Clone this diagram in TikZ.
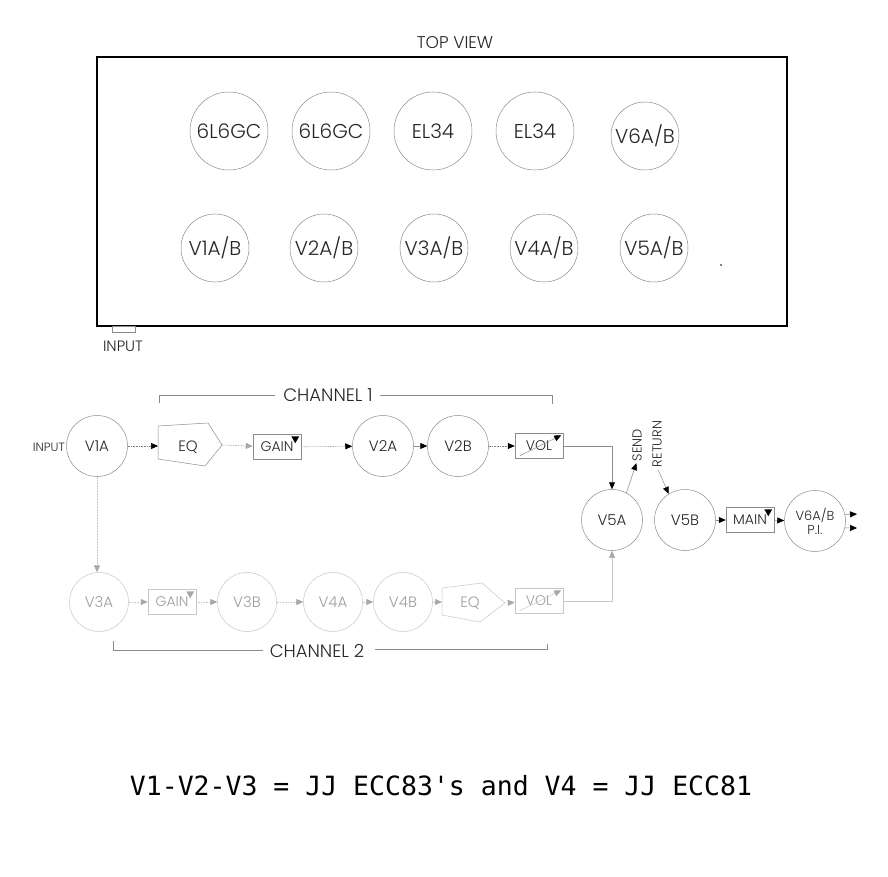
\documentclass[tikz,border=0pt]{standalone}
\usepackage{fontspec}
\setmainfont{Poppins Light}
\newfontfamily\monof{DejaVu Sans Mono}
\usetikzlibrary{arrows.meta,shapes.geometric}
\definecolor{tubeline}{gray}{0.55}
\definecolor{ctwoline}{gray}{0.78}
\definecolor{ctwotext}{gray}{0.62}
\definecolor{ctwohead}{gray}{0.66}
\definecolor{labeltext}{gray}{0.15}
\newcommand{\fsz}[1]{\fontsize{#1}{#1}\selectfont}
\begin{document}
\begin{tikzpicture}[x=1pt,y=-1pt,
  every node/.style={inner sep=0pt, text=labeltext},
  toptube/.style={circle, draw=tubeline, line width=0.5pt, minimum size=78pt, font=\fsz{20}},
  smalltube/.style={circle, draw=tubeline, line width=0.5pt, minimum size=68pt, font=\fsz{20}},
  tubeone/.style={circle, draw=tubeline, line width=0.5pt, minimum size=61pt, font=\fsz{15}},
  tubetwo/.style={circle, draw=ctwoline, line width=0.5pt, minimum size=59pt, font=\fsz{15}, text=ctwotext},
  boxone/.style={rectangle, draw=tubeline, line width=0.5pt, minimum width=48pt, minimum height=25pt, font=\fsz{14}},
  boxtwo/.style={rectangle, draw=ctwoline, line width=0.5pt, minimum width=48pt, minimum height=25pt, font=\fsz{14}, text=ctwotext},
  headblack/.style={-{Triangle[length=7pt,width=6pt,color=black]}},
  headgray/.style={-{Triangle[length=7pt,width=6pt,color=ctwohead]}},
  dotline/.style={densely dotted, draw=gray, line width=0.6pt},
  dottwo/.style={densely dotted, draw=ctwoline, line width=0.6pt},
]
\useasboundingbox (0,0) rectangle (888,877);
\fill[white] (0,0) rectangle (888,877);

% ---------- TOP VIEW ----------
\node[font=\fsz{17}] (topview) at (455,43) {TOP VIEW};
\draw[line width=2pt] (97,57) rectangle (787,326);
\node[toptube] (t1) at (229,131) {6L6GC};
\node[toptube] (t2) at (331,131) {6L6GC};
\node[toptube] (t3) at (433,131) {EL34};
\node[toptube] (t4) at (535,131) {EL34};
\node[smalltube] (t5) at (645,136) {V6A/B};
\node[smalltube] (b1) at (215,248) {V1A/B};
\node[smalltube] (b2) at (324,248) {V2A/B};
\node[smalltube] (b3) at (434,248) {V3A/B};
\node[smalltube] (b4) at (544,248) {V4A/B};
\node[smalltube] (b5) at (654,248) {V5A/B};
\fill (721,265) circle (0.8);
\draw[tubeline, line width=0.5pt] (112,326) rectangle (135,332);
\node[font=\fsz{15}] (inputtop) at (123,346) {INPUT};

% ---------- CHANNEL 1 ----------
\node[font=\fsz{12}, anchor=east] (inp) at (65,447) {INPUT};
\node[tubeone] (v1a) at (97,446) {V1A};
\draw[tubeline, line width=0.5pt] (158,426) -- (208,423) -- (222,445) -- (205,466) -- (158,459) -- cycle;
\coordinate (eq1w) at (158,446);
\coordinate (eq1e) at (222,445);
\node[font=\fsz{15}] (eq1) at (188,447) {EQ};
\node[boxone] (gain1) at (277,447) {GAIN};
\fill ([shift={(-10,2)}]gain1.north east) -- ++(8,0) -- ++(-4,7) -- cycle;
\node[tubeone] (v2a) at (383,446) {V2A};
\node[tubeone] (v2b) at (458,446) {V2B};
\node[boxone] (vol1) at (539,446) {VOL};
\draw[tubeline, line width=0.5pt, headblack] ([shift={(5,-3)}]vol1.south west) -- ([shift={(-2,2)}]vol1.north east);

\draw[dotline, headblack] (v1a) -- (eq1w);
\draw[dotline, headgray] (eq1e) -- (gain1);
\draw[dotline, headblack] (gain1) -- (v2a);
\draw[tubeline, line width=0.5pt, headblack] (v2a) -- (v2b);
\draw[dotline, headblack] (v2b) -- (vol1);

\draw[tubeline, line width=0.5pt] (159,403) -- (159,395) -- (275,395);
\node[font=\fsz{18}] (ch1) at (328,395) {CHANNEL 1};
\draw[tubeline, line width=0.5pt] (380,395) -- (552,395) -- (552,404);

% ---------- V5 / output ----------
\node[tubeone] (v5a) at (612,520) {V5A};
\node[tubeone] (v5b) at (685,520) {V5B};
\node[boxone] (main) at (750,520) {MAIN};
\fill ([shift={(-10,2)}]main.north east) -- ++(8,0) -- ++(-4,7) -- cycle;
\node[tubeone, align=center, font=\fsz{13}] (v6) at (815,521) {V6A/B\\[1pt]P.I.};
\node[rotate=90, font=\fsz{13}] (send) at (637,445) {SEND};
\node[rotate=90, font=\fsz{13}] (ret) at (657,444) {RETURN};
\coordinate (out1) at (857,514);
\coordinate (out2) at (857,528);

\draw[tubeline, line width=0.5pt, headblack] (vol1.east) -| (v5a.north);
\draw[tubeline, line width=0.5pt, headblack, shorten >=2pt] (v5a.62) -- (send.west);
\draw[tubeline, line width=0.5pt, headblack, shorten <=3pt] (ret.west) -- (v5b.122);
\draw[tubeline, line width=0.5pt, headblack] (v5b) -- (main);
\draw[tubeline, line width=0.5pt, headblack] (main) -- (v6);
\draw[tubeline, line width=0.5pt, headblack] (v6.12) -- (out1);
\draw[tubeline, line width=0.5pt, headblack] (v6.-13) -- (out2);

% ---------- CHANNEL 2 ----------
\node[tubetwo] (v3a) at (99,602) {V3A};
\node[boxtwo] (gain2) at (172,602) {GAIN};
\fill[ctwohead] ([shift={(-10,2)}]gain2.north east) -- ++(8,0) -- ++(-4,7) -- cycle;
\node[tubetwo] (v3b) at (247,602) {V3B};
\node[tubetwo] (v4a) at (333,602) {V4A};
\node[tubetwo] (v4b) at (403,602) {V4B};
\draw[ctwoline, line width=0.5pt] (442,588) -- (482,583) -- (505,603) -- (480,622) -- (442,615) -- cycle;
\coordinate (eq2w) at (442,602);
\coordinate (eq2e) at (505,603);
\node[font=\fsz{15}, text=ctwotext] (eq2) at (470,603) {EQ};
\node[boxtwo] (vol2) at (539,601) {VOL};
\draw[ctwoline, line width=0.5pt, headgray] ([shift={(5,-3)}]vol2.south west) -- ([shift={(-2,2)}]vol2.north east);

\draw[dottwo, headgray] (v1a.south) -- (v1a.south |- v3a.north);
\draw[dottwo, headgray] (v3a) -- (gain2);
\draw[dottwo, headgray] (gain2) -- (v3b);
\draw[dottwo, headgray] (v3b) -- (v4a);
\draw[dottwo, headgray] (v4a) -- (v4b);
\draw[dottwo, headgray] (v4b) -- (eq2w);
\draw[dottwo, headgray] (eq2e) -- (vol2);
\draw[ctwoline, line width=0.5pt, headgray] (vol2.east) -| (v5a.south);

\draw[tubeline, line width=0.5pt] (113,641) -- (113,650) -- (263,650);
\node[font=\fsz{18}] (ch2) at (317,651) {CHANNEL 2};
\draw[tubeline, line width=0.5pt] (375,649) -- (547,649) -- (547,644);

% ---------- note ----------
\node[font=\monof\fsz{26.5}, text=black] (note) at (441,786) {V1-V2-V3 = JJ ECC83\char"0027s and V4 = JJ ECC81};
\end{tikzpicture}
\end{document}
